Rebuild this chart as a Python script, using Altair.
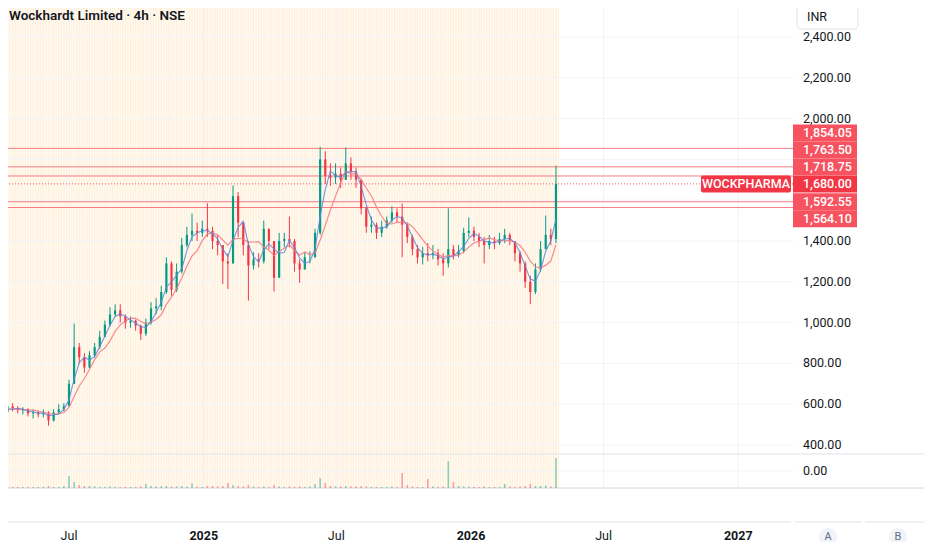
import altair as alt
import numpy as np
import pandas as pd

# ---------------- data ----------------
TITLE = "Wockhardt Limited · 4h · NSE"
SYMBOL = "WOCKPHARMA"
CURRENCY = "INR"

first_week = "2024-04-01"          # weekly candles, Monday dates
first_open = 545.0
closes = [560, 590, 580, 570, 575, 555, 560, 550, 560, 520,
          560, 575, 590, 700, 880, 830, 780, 840, 880, 930,
          990, 1040, 1060, 1030, 1000, 1010, 985, 945, 1000, 1070,
          1080, 1150, 1290, 1160, 1250, 1380, 1430, 1450, 1440, 1460,
          1450, 1400, 1380, 1300, 1290, 1620, 1490, 1380, 1280, 1310,
          1300, 1460, 1400, 1220, 1400, 1410, 1400, 1290, 1260, 1320,
          1320, 1440, 1800, 1720, 1710, 1730, 1700, 1780, 1740, 1700,
          1560, 1470, 1480, 1440, 1470, 1500, 1540, 1520, 1480, 1420,
          1360, 1320, 1340, 1330, 1340, 1310, 1290, 1360, 1330, 1350,
          1440, 1450, 1420, 1400, 1380, 1400, 1390, 1410, 1430, 1400,
          1340, 1290, 1200, 1150, 1260, 1360, 1430, 1410, 1680]
highs = [575, 610, 605, 590, 585, 580, 575, 570, 575, 565,
         575, 600, 605, 720, 995, 900, 850, 860, 900, 960,
         1010, 1075, 1090, 1090, 1040, 1030, 1015, 990, 1020, 1100,
         1120, 1180, 1320, 1300, 1290, 1415, 1470, 1535, 1490, 1500,
         1585, 1470, 1430, 1380, 1340, 1672, 1640, 1470, 1400, 1345,
         1340, 1500, 1460, 1400, 1440, 1440, 1520, 1410, 1310, 1345,
         1350, 1460, 1862, 1840, 1780, 1780, 1760, 1858, 1810, 1760,
         1700, 1570, 1520, 1490, 1500, 1520, 1570, 1560, 1583, 1490,
         1430, 1380, 1370, 1390, 1380, 1360, 1340, 1560, 1380, 1380,
         1465, 1515, 1470, 1440, 1420, 1430, 1420, 1440, 1460, 1440,
         1400, 1350, 1300, 1230, 1290, 1400, 1525, 1460, 1770]
lows = [530, 555, 565, 555, 550, 540, 530, 535, 535, 495,
        515, 555, 565, 590, 700, 800, 755, 775, 830, 870,
        930, 980, 1030, 1000, 970, 975, 960, 915, 935, 990,
        1040, 1060, 1140, 1132, 1150, 1240, 1370, 1400, 1400, 1420,
        1420, 1360, 1330, 1190, 1165, 1290, 1420, 1330, 1108, 1260,
        1270, 1290, 1360, 1152, 1220, 1370, 1370, 1250, 1195, 1280,
        1290, 1320, 1430, 1680, 1670, 1680, 1660, 1700, 1700, 1660,
        1530, 1440, 1440, 1410, 1420, 1460, 1490, 1490, 1320, 1390,
        1330, 1290, 1285, 1300, 1310, 1280, 1230, 1270, 1310, 1320,
        1340, 1420, 1400, 1370, 1290, 1360, 1360, 1380, 1390, 1380,
        1300, 1250, 1170, 1090, 1140, 1250, 1360, 1380, 1390]
volumes = [1, 1, 1, 1, 1, 1, 1, 1, 1, 2,
           1, 1, 2, 12, 6, 3, 2, 2, 1.5, 1,
           1, 1.5, 1, 1, 1, 1, 1, 1.5, 4, 2,
           1.5, 2, 2, 1.5, 1.5, 2, 1.5, 5, 1.5, 1,
           2, 2, 1.5, 2, 5, 3, 2, 1.5, 3, 1.5,
           1, 1.5, 1, 3, 1.5, 1, 1.5, 1, 1.5, 1,
           1.5, 4, 10, 5, 2, 1.5, 1.5, 2, 1.5, 1.5,
           2, 1.5, 1, 1, 1, 1, 1.5, 1, 15, 3,
           1.5, 1, 1, 9, 1.5, 1, 1.5, 27, 6, 2,
           1.5, 1.5, 1, 1, 1.5, 1, 1, 1, 4, 1.5,
           1, 1.5, 2, 4, 2, 2, 2.5, 1.5, 30]

level_prices = [1854.05, 1763.50, 1718.75, 1592.55, 1564.10]
last_price = 1680.00
price_tick_values = [2400, 2200, 2000, 1400, 1200, 1000, 800, 600, 400]
price_grid_values = [400, 600, 800, 1000, 1200, 1400, 1600, 1800, 2000, 2200, 2400]
month_tick_dates = ["2024-07-01", "2025-07-01", "2026-07-01"]
year_tick_dates = ["2025-01-01", "2026-01-01", "2027-01-01"]

# ---------------- layout / style ----------------
W, H = 932, 550            # window; coordinates below are window pixels
MARGIN = 8                 # page margin, cancelled by negative padding
CW, CH = W - MARGIN, H - MARGIN
PLOT_RIGHT = 793
AXIS_X = 803
PANE_SEP_Y = 454
VOL_ZERO_Y = 488
VOL_GRID_Y = 471
TIME_SEP_Y = 522
TIME_LABEL_Y = 536
VOL_MAX_PX = 30
BOX_PX = 17

UP, DOWN = "#089981", "#f23645"
LEVEL = "#f7525f"
MA_FAST, MA_SLOW = "#5b86dc", "#f77c84"
GRID = "#f0f3fa"
SEP = "#e0e3eb"
TXT = "#131722"
FONT = "Roboto"

# price scale anchored so that 2400 sits at y=37 and 400 at y=445
ppu = (445 - 37) / (2400 - 400)
price_domain = [2400 - (CH - 37) / ppu, 2400 + 37 / ppu]
ps = alt.Scale(domain=price_domain, zero=False, nice=False, padding=0)


def ms(d):
    return int(pd.Timestamp(d).value // 10**6)


# time scale anchored so Jul 2024 sits at x=69 and Jan 2026 at x=471
ppms = (471 - 69) / (ms("2026-01-01") - ms("2024-07-01"))
x_domain = [ms("2024-07-01") - 69 / ppms, ms("2024-07-01") + (CW - 69) / ppms]
xs = alt.Scale(type="utc", domain=x_domain, nice=False, padding=0)

# volume scale: zero at VOL_ZERO_Y, max volume VOL_MAX_PX tall
pxv = VOL_MAX_PX / max(volumes)
vs = alt.Scale(domain=[-(CH - VOL_ZERO_Y) / pxv, VOL_ZERO_Y / pxv], zero=False, nice=False, padding=0)

# ---------------- tables ----------------
dates = pd.date_range(first_week, periods=len(closes), freq="7D")
opens = [first_open] + closes[:-1]
candles = pd.DataFrame({
    "date": dates.strftime("%Y-%m-%d"),
    "open": opens, "high": highs, "low": lows, "close": closes, "volume": volumes,
})
candles["dir"] = np.where(candles["close"] >= candles["open"], "up", "down")

span = pd.DataFrame({
    "start": [(dates[0] - pd.Timedelta(days=6)).strftime("%Y-%m-%d")],
    "end": [(dates[-1] + pd.Timedelta(days=3)).strftime("%Y-%m-%d")],
})

# right-axis label boxes, spread so they do not overlap
step = BOX_PX / ppu
above = sorted([p for p in level_prices if p > last_price])
below = sorted([p for p in level_prices if p < last_price], reverse=True)
rows = [(last_price, last_price, "last")]
prev = last_price
for p in above:
    prev = max(p, prev + step)
    rows.append((p, prev, "level"))
prev = last_price
for p in below:
    prev = min(p, prev - step)
    rows.append((p, prev, "level"))
boxes = pd.DataFrame(rows, columns=["price", "disp", "kind"])
boxes["top"] = boxes["disp"] + step / 2
boxes["bot"] = boxes["disp"] - step / 2

levels = pd.DataFrame({"price": level_prices})
lastdf = pd.DataFrame({"price": [last_price], "top": [last_price + step / 2],
                       "bot": [last_price - step / 2], "sym": [SYMBOL]})
pgrid = pd.DataFrame({"price": price_grid_values})
pticks = pd.DataFrame({"price": price_tick_values})
months = pd.DataFrame({"date": month_tick_dates,
                       "label": [pd.Timestamp(d).strftime("%b") for d in month_tick_dates]})
years = pd.DataFrame({"date": year_tick_dates,
                      "label": [pd.Timestamp(d).strftime("%Y") for d in year_tick_dates]})
tgrid = pd.concat([months, years])
one = pd.DataFrame({"k": [0]})

X = alt.X("date:T", scale=xs, axis=None)
dir_color = alt.Color("dir:N", scale=alt.Scale(domain=["up", "down"], range=[UP, DOWN]), legend=None)

# ---------------- layers ----------------
bg = alt.Chart(span).mark_rect(color="#fffaf3").encode(
    x=alt.X("start:T", scale=xs, axis=None), x2="end:T",
    y=alt.value(0), y2=alt.value(VOL_ZERO_Y))
stripes = alt.Chart(candles).transform_calculate(
    mid="toDate(datum.date) + 3.5 * 864e5"
).mark_rule(color="#fff0da", strokeWidth=1.2).encode(
    x=alt.X("mid:T", scale=xs, axis=None), y=alt.value(0), y2=alt.value(VOL_ZERO_Y))
stripes2 = alt.Chart(candles).mark_rule(color="#fff0da", strokeWidth=1.2).encode(
    x=X, y=alt.value(0), y2=alt.value(VOL_ZERO_Y))

hgrid = alt.Chart(pgrid).mark_rule(color=GRID, strokeWidth=1).encode(
    y=alt.Y("price:Q", scale=ps, axis=None), x=alt.value(0), x2=alt.value(PLOT_RIGHT))
vgrid = alt.Chart(tgrid).mark_rule(color=GRID, strokeWidth=1).encode(
    x=X, y=alt.value(0), y2=alt.value(VOL_ZERO_Y))
volgrid = alt.Chart(one).mark_rule(color=GRID).encode(
    y=alt.value(VOL_GRID_Y), x=alt.value(0), x2=alt.value(PLOT_RIGHT))
sep1 = alt.Chart(one).mark_rule(color=SEP).encode(
    y=alt.value(PANE_SEP_Y), x=alt.value(0), x2=alt.value(W))
sep2 = alt.Chart(one).mark_rule(color="#d1d4dc").encode(
    y=alt.value(VOL_ZERO_Y), x=alt.value(0), x2=alt.value(W))
sep3 = alt.Chart(pd.DataFrame({"a": [0, 795, 865], "b": [791, 862, W]})).mark_rule(color=SEP).encode(
    y=alt.value(TIME_SEP_Y), x=alt.X("a:Q", scale=alt.Scale(domain=[0, CW], range=[0, CW]), axis=None),
    x2="b:Q")

level_lines = alt.Chart(levels).mark_rule(color=LEVEL, opacity=0.75, strokeWidth=1).encode(
    y=alt.Y("price:Q", scale=ps, axis=None), x=alt.value(0), x2=alt.value(PLOT_RIGHT))
last_line = alt.Chart(lastdf).mark_rule(color=DOWN, strokeDash=[1, 2], strokeWidth=1, opacity=0.8).encode(
    y=alt.Y("price:Q", scale=ps, axis=None), x=alt.value(0), x2=alt.value(PLOT_RIGHT))

base = alt.Chart(candles)
ma = base.transform_window(
    ma_fast="mean(close)", frame=[-2, 0], sort=[alt.SortField("date")]
).transform_window(
    ma_slow="mean(close)", frame=[-5, 0], sort=[alt.SortField("date")])
ma_slow = ma.mark_line(color=MA_SLOW, strokeWidth=1.2, opacity=0.9).encode(
    x=X, y=alt.Y("ma_slow:Q", scale=ps, axis=None))
ma_fast = ma.mark_line(color=MA_FAST, strokeWidth=1.1, opacity=0.85).encode(
    x=X, y=alt.Y("ma_fast:Q", scale=ps, axis=None))

wicks = base.mark_rule(strokeWidth=1).encode(
    x=X, y=alt.Y("low:Q", scale=ps, axis=None), y2="high:Q", color=dir_color)
bodies = base.mark_bar(size=2.2).encode(
    x=X, y=alt.Y("open:Q", scale=ps, axis=None), y2="close:Q", color=dir_color)

vol = base.mark_bar(size=1.6, opacity=0.45).encode(
    x=X, y=alt.Y("volume:Q", scale=vs, axis=None, stack=None), color=dir_color)

# axis labels
plabels = alt.Chart(pticks).mark_text(align="left", baseline="middle", font=FONT,
                                      fontSize=12.5, color=TXT).encode(
    y=alt.Y("price:Q", scale=ps, axis=None), x=alt.value(AXIS_X),
    text=alt.Text("price:Q", format=",.2f"))
vol_label = alt.Chart(one).mark_text(align="left", baseline="middle", font=FONT,
                                     fontSize=12.5, color=TXT, text="0.00").encode(
    x=alt.value(AXIS_X), y=alt.value(VOL_GRID_Y))
mlabels = alt.Chart(months).mark_text(align="center", baseline="middle", font=FONT,
                                      fontSize=12.5, color=TXT).encode(
    x=X, y=alt.value(TIME_LABEL_Y), text="label:N")
ylabels = alt.Chart(years).mark_text(align="center", baseline="middle", font=FONT,
                                     fontSize=12.5, fontWeight="bold", color=TXT).encode(
    x=X, y=alt.value(TIME_LABEL_Y), text="label:N")

box_rects = alt.Chart(boxes).mark_rect().encode(
    y=alt.Y("top:Q", scale=ps, axis=None), y2="bot:Q",
    x=alt.value(PLOT_RIGHT), x2=alt.value(857),
    color=alt.Color("kind:N", scale=alt.Scale(domain=["last", "level"], range=[DOWN, "#f7525f"]),
                    legend=None))
box_text = alt.Chart(boxes).mark_text(align="left", baseline="middle", font=FONT, fontSize=12.5,
                                      fontWeight=500, color="white").encode(
    y=alt.Y("disp:Q", scale=ps, axis=None), x=alt.value(AXIS_X),
    text=alt.Text("price:Q", format=",.2f"))
sym_rect = alt.Chart(lastdf).mark_rect(color=DOWN, cornerRadius=2).encode(
    y=alt.Y("top:Q", scale=ps, axis=None), y2="bot:Q", x=alt.value(701), x2=alt.value(791))
sym_text = alt.Chart(lastdf).mark_text(align="center", baseline="middle", font=FONT, fontSize=12.5,
                                       fontWeight=500, color="white").encode(
    y=alt.Y("price:Q", scale=ps, axis=None), x=alt.value(746), text="sym:N")

title = alt.Chart(one).mark_text(align="left", baseline="middle", font=FONT, fontSize=13.5,
                                 fontWeight=600, color=TXT, text=TITLE).encode(
    x=alt.value(9), y=alt.value(16))
inr_box = alt.Chart(one).mark_rect(fill="white", stroke=SEP, strokeWidth=1, cornerRadius=4).encode(
    x=alt.value(797), x2=alt.value(858), y=alt.value(4), y2=alt.value(29))
inr_text = alt.Chart(one).mark_text(align="left", baseline="middle", font=FONT, fontSize=12.5,
                                    color=TXT, text=CURRENCY).encode(
    x=alt.value(807), y=alt.value(16.5))
btn_a = alt.Chart(one).mark_point(filled=True, shape="circle", size=330, color="#f0f3fa", opacity=1).encode(
    x=alt.value(828), y=alt.value(537))
btn_b = alt.Chart(one).mark_point(filled=True, shape="circle", size=330, color="#f0f3fa", opacity=1).encode(
    x=alt.value(898), y=alt.value(537))
btn_a_t = alt.Chart(one).mark_text(font=FONT, fontSize=11, color="#6a6d78", text="A",
                                   baseline="middle").encode(x=alt.value(828), y=alt.value(537))
btn_b_t = alt.Chart(one).mark_text(font=FONT, fontSize=11, color="#6a6d78", text="B",
                                   baseline="middle").encode(x=alt.value(898), y=alt.value(537))

chart = alt.layer(
    bg, stripes, stripes2, hgrid, vgrid, volgrid, sep1, sep2, sep3,
    level_lines, last_line,
    vol, wicks, bodies, ma_slow, ma_fast,
    plabels, vol_label, mlabels, ylabels,
    box_rects, box_text, sym_rect, sym_text,
    title, inr_box, inr_text, btn_a, btn_b, btn_a_t, btn_b_t,
).resolve_scale(
    y="independent", x="independent", color="independent"
).properties(
    width=CW, height=CH, autosize="none",
    padding={"left": -MARGIN, "top": -MARGIN, "right": 0, "bottom": 0},
    background="white",
).configure_view(stroke=None)

chart.save("out.html", embed_options={"renderer": "svg", "actions": False})
